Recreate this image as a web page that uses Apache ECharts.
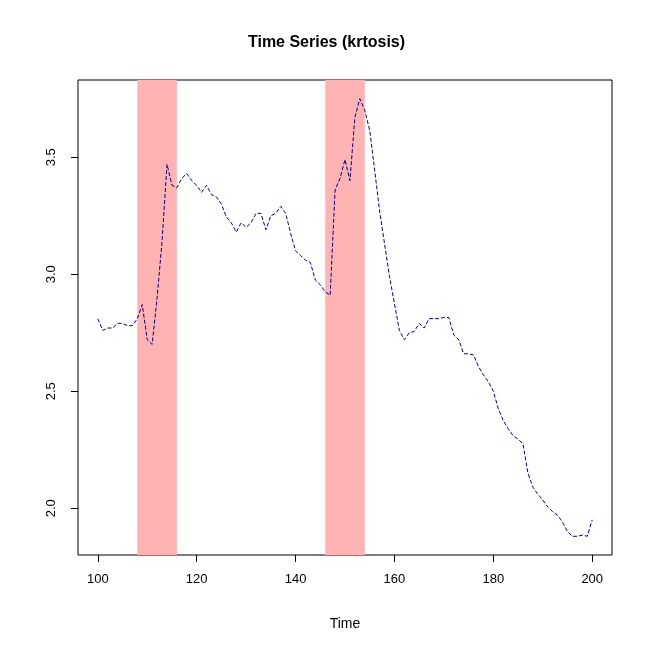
<!DOCTYPE html>
<html>
<head>
<meta charset="utf-8">
<script src="https://cdn.jsdelivr.net/npm/echarts@6/dist/echarts.min.js"></script>
<style>html,body{margin:0;padding:0;background:#fff}#chart{width:653px;height:653px}</style>
</head>
<body>
<div id="chart"></div>
<script>
// series values for t = 100..200
const startTime = 100
const krtosis = [
  2.81, 2.76, 2.77, 2.77, 2.79, 2.79, 2.78, 2.78, 2.81, 2.87,
  2.72, 2.70, 2.90, 3.14, 3.47, 3.38, 3.37, 3.41, 3.43, 3.40,
  3.38, 3.35, 3.38, 3.34, 3.33, 3.30, 3.245, 3.22, 3.18, 3.22,
  3.20, 3.22, 3.26, 3.26, 3.19, 3.25, 3.26, 3.29, 3.26, 3.175,
  3.10, 3.08, 3.06, 3.05, 2.975, 2.955, 2.925, 2.91, 3.36, 3.41,
  3.49, 3.40, 3.67, 3.75, 3.70, 3.615, 3.445, 3.27, 3.13, 2.99,
  2.875, 2.76, 2.72, 2.75, 2.755, 2.79, 2.77, 2.81, 2.81, 2.81,
  2.815, 2.815, 2.74, 2.72, 2.66, 2.66, 2.655, 2.605, 2.57, 2.54,
  2.50, 2.425, 2.375, 2.34, 2.31, 2.295, 2.275, 2.15, 2.09, 2.06,
  2.035, 2.005, 1.985, 1.97, 1.94, 1.90, 1.88, 1.88, 1.885, 1.88,
  1.95
]
const bands = [[108, 116], [146, 154]]
const xTicks = [100, 120, 140, 160, 180, 200]
const yTicks = [2.0, 2.5, 3.0, 3.5]

const points = krtosis.map((v, i) => [startTime + i, v])
const font = 'Liberation Sans, Arial, sans-serif'

const chart = echarts.init(document.getElementById('chart'))
chart.setOption({
  animation: false,
  title: {
    text: 'Time Series (krtosis)', left: 'center', top: 30,
    textStyle: { fontFamily: font, fontSize: 16, fontWeight: 'bold', color: '#000' }
  },
  grid: { left: 78, right: 41, top: 80, bottom: 98, show: true, borderColor: '#000', borderWidth: 1 },
  xAxis: {
    type: 'value', min: 96, max: 204,
    name: 'Time', nameLocation: 'middle', nameGap: 62,
    nameTextStyle: { fontFamily: font, fontSize: 14, color: '#000' },
    splitLine: { show: false },
    axisLine: { show: false },
    axisTick: { show: true, length: 7, customValues: xTicks, lineStyle: { color: '#000' } },
    axisLabel: { customValues: xTicks, margin: 18, fontFamily: font, fontSize: 13, color: '#000' }
  },
  yAxis: {
    type: 'value', min: 1.8, max: 3.83,
    splitLine: { show: false },
    axisLine: { show: false },
    axisTick: { show: true, length: 7, customValues: yTicks, lineStyle: { color: '#000' } },
    axisLabel: { customValues: yTicks, rotate: 90, margin: 20, fontFamily: font, fontSize: 13, color: '#000',
      formatter: v => v.toFixed(1) }
  },
  series: [{
    type: 'line', data: points, showSymbol: false,
    lineStyle: { color: '#00008B', width: 1, type: [4, 2] },
    markArea: {
      silent: true,
      itemStyle: { color: '#FFB3B3', opacity: 1 },
      data: bands.map(b => [{ xAxis: b[0] }, { xAxis: b[1] }])
    },
    z: 3
  }]
})
</script>
</body>
</html>
